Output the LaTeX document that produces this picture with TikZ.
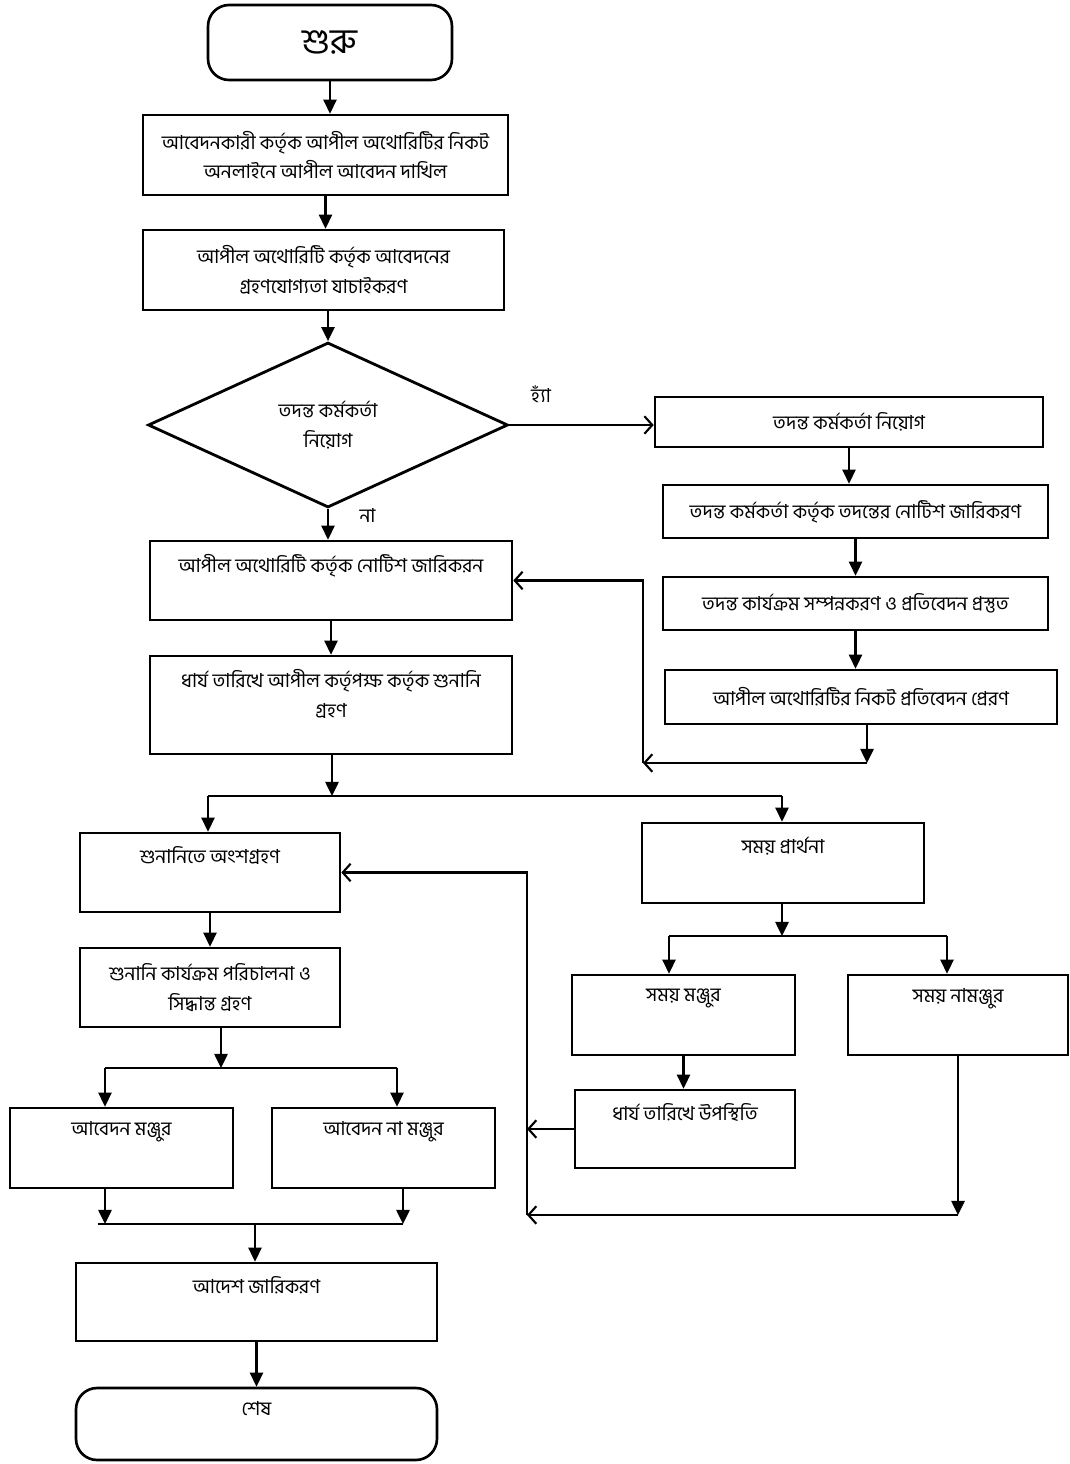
\documentclass[tikz,border=0pt]{standalone}
\usepackage{fontspec}
\newfontfamily\bnfont[Script=Bengali]{Hind Siliguri}
\usetikzlibrary{shapes.geometric,arrows.meta}

\tikzset{
	box/.style={draw,rectangle,line width=1.5pt,inner sep=2pt,align=center},
	endbox/.style={box,rounded corners=12pt},
	toptext/.style={label={[anchor=north,yshift=-5pt,align=center]north:{#1}}},
	flow/.style={line width=1.2pt,-{Triangle[length=8pt,width=7.5pt]}},
	back/.style={line width=1.2pt,-{Straight Barb[length=4.5pt,width=10pt]}},
	bus/.style={line width=1.5pt},
}

\begin{document}
\begin{tikzpicture}[x=0.02cm,y=-0.02cm,font=\bnfont\fontsize{11}{17}\selectfont]
	\useasboundingbox (0,0) rectangle (1070,1464);
	% main column
	\node[endbox,minimum width=4.88cm,minimum height=1.5cm,font=\bnfont\fontsize{20}{24}\selectfont] (start) at (330,42.5) {শুরু};
	\node[box,minimum width=7.3cm,minimum height=1.6cm] (apply) at (325.5,155) {আবেদনকারী কর্তৃক আপীল অথোরিটির নিকট\\অনলাইনে আপীল আবেদন দাখিল};
	\node[box,minimum width=7.22cm,minimum height=1.6cm] (check) at (323.5,270) {আপীল অথোরিটি কর্তৃক আবেদনের\\গ্রহণযোগ্যতা যাচাইকরণ};
	\node[draw,diamond,line width=1.6pt,inner sep=0,minimum width=7.2cm,minimum height=3.3cm,align=center] (ask) at (328,425) {তদন্ত কর্মকর্তা\\নিয়োগ};
	\node[box,minimum width=7.24cm,minimum height=1.58cm,toptext={আপীল অথোরিটি কর্তৃক নোটিশ জারিকরন}] (notice) at (331,580.5) {};
	\node[box,minimum width=7.24cm,minimum height=1.96cm,toptext={ধার্য তারিখে আপীল কর্তৃপক্ষ কর্তৃক শুনানি\\গ্রহণ}] (hearing) at (331,705) {};
	% investigation column
	\node[box,minimum width=7.76cm,minimum height=1.0cm] (officer) at (849,422) {তদন্ত কর্মকর্তা নিয়োগ};
	\node[box,minimum width=7.7cm,minimum height=1.06cm] (invnotice) at (855.5,511.5) {তদন্ত কর্মকর্তা কর্তৃক তদন্তের নোটিশ জারিকরণ};
	\node[box,minimum width=7.7cm,minimum height=1.06cm] (report) at (855.5,603.5) {তদন্ত কার্যক্রম সম্পন্নকরণ ও প্রতিবেদন প্রস্তুত};
	\node[box,minimum width=7.84cm,minimum height=1.08cm] (send) at (861,697) {আপীল অথোরিটির নিকট প্রতিবেদন প্রেরণ};
	% hearing branch
	\node[box,minimum width=5.2cm,minimum height=1.58cm,toptext={শুনানিতে অংশগ্রহণ}] (attend) at (210,872.5) {};
	\node[box,minimum width=5.2cm,minimum height=1.58cm] (decide) at (210,987.5) {শুনানি কার্যক্রম পরিচালনা ও\\সিদ্ধান্ত গ্রহণ};
	\node[box,minimum width=4.46cm,minimum height=1.6cm,toptext={আবেদন মঞ্জুর}] (granted) at (121.5,1148) {};
	\node[box,minimum width=4.46cm,minimum height=1.6cm,toptext={আবেদন না মঞ্জুর}] (rejected) at (383.5,1148) {};
	\node[box,minimum width=7.22cm,minimum height=1.56cm,toptext={আদেশ জারিকরণ}] (order) at (256.5,1302) {};
	\node[endbox,minimum width=7.22cm,minimum height=1.44cm,toptext={শেষ}] (finish) at (256.5,1424) {};
	% time branch
	\node[box,minimum width=5.64cm,minimum height=1.6cm,toptext={সময় প্রার্থনা}] (time) at (783,863) {};
	\node[box,minimum width=4.46cm,minimum height=1.6cm,toptext={সময় মঞ্জুর}] (timeok) at (683.5,1015) {};
	\node[box,minimum width=4.4cm,minimum height=1.6cm,toptext={সময় নামঞ্জুর}] (timeno) at (958,1015) {};
	\node[box,minimum width=4.4cm,minimum height=1.56cm,toptext={ধার্য তারিখে উপস্থিতি}] (present) at (685,1129) {};

	% turning points
	\coordinate (sendturn) at (867,763);
	\coordinate (sendback) at (643,763);
	\coordinate (split) at (332,796);
	\coordinate (splitL) at (208,796);
	\coordinate (splitR) at (782,796);
	\coordinate (dsplit) at (221,1068);
	\coordinate (dsplitL) at (105,1068);
	\coordinate (dsplitR) at (397,1068);
	\coordinate (joinL) at (98,1224);
	\coordinate (joinR) at (403,1224);
	\coordinate (join) at (255,1224);
	\coordinate (tsplit) at (782,936);
	\coordinate (tsplitL) at (669,936);
	\coordinate (tsplitR) at (947,936);
	\coordinate (noturn) at (958,1215);
	\coordinate (backlow) at (527,1215);
	\coordinate (backmid) at (527,1129);

	\draw[flow] (start.south) -- (start.south |- apply.north);
	\draw[flow] (apply.south) -- (apply.south |- check.north);
	\draw[flow] (ask.north |- check.south) -- (ask.north);
	\draw[back] (ask.east) -- (ask.east -| officer.west) node[pos=0.22,above=9pt] (yes) {হ্যাঁ};
	\draw[flow] (ask.south) -- (ask.south |- notice.north) node[pos=0.2,right=14pt] (no) {না};
	\draw[flow] (notice.south) -- (hearing.north);
	\draw[flow] (officer.south) -- (officer.south |- invnotice.north);
	\draw[flow] (invnotice.south) -- (invnotice.south |- report.north);
	\draw[flow] (report.south) -- (report.south |- send.north);
	\draw[flow] (send.south -| sendturn) -- (sendturn);
	\draw[back] (sendturn) -- (sendback);
	\draw[back] (sendback) |- (notice.east);
	% after hearing
	\draw[flow] (split |- hearing.south) -- (split);
	\draw[bus] (splitL) -- (splitR);
	\draw[flow] (splitL) -- (splitL |- attend.north);
	\draw[flow] (splitR) -- (splitR |- time.north);
	\draw[flow] (attend.south) -- (decide.north);
	\draw[flow] (decide.south -| dsplit) -- (dsplit);
	\draw[bus] (dsplitL) -- (dsplitR);
	\draw[flow] (dsplitL) -- (dsplitL |- granted.north);
	\draw[flow] (dsplitR) -- (dsplitR |- rejected.north);
	\draw[flow] (granted.south -| dsplitL) -- (dsplitL |- joinL);
	\draw[flow] (rejected.south -| joinR) -- (joinR);
	\draw[bus] (joinL) -- (joinR);
	\draw[flow] (join) -- (join |- order.north);
	\draw[flow] (order.south) -- (finish.north);
	% time request
	\draw[flow] (tsplit |- time.south) -- (tsplit);
	\draw[bus] (tsplitL) -- (tsplitR);
	\draw[flow] (tsplitL) -- (tsplitL |- timeok.north);
	\draw[flow] (tsplitR) -- (tsplitR |- timeno.north);
	\draw[flow] (timeok.south) -- (timeok.south |- present.north);
	\draw[back] (present.west) -- (backmid);
	\draw[flow] (timeno.south) -- (noturn);
	\draw[back] (noturn) -- (backlow);
	\draw[back] (backlow) |- (attend.east);
\end{tikzpicture}
\end{document}
